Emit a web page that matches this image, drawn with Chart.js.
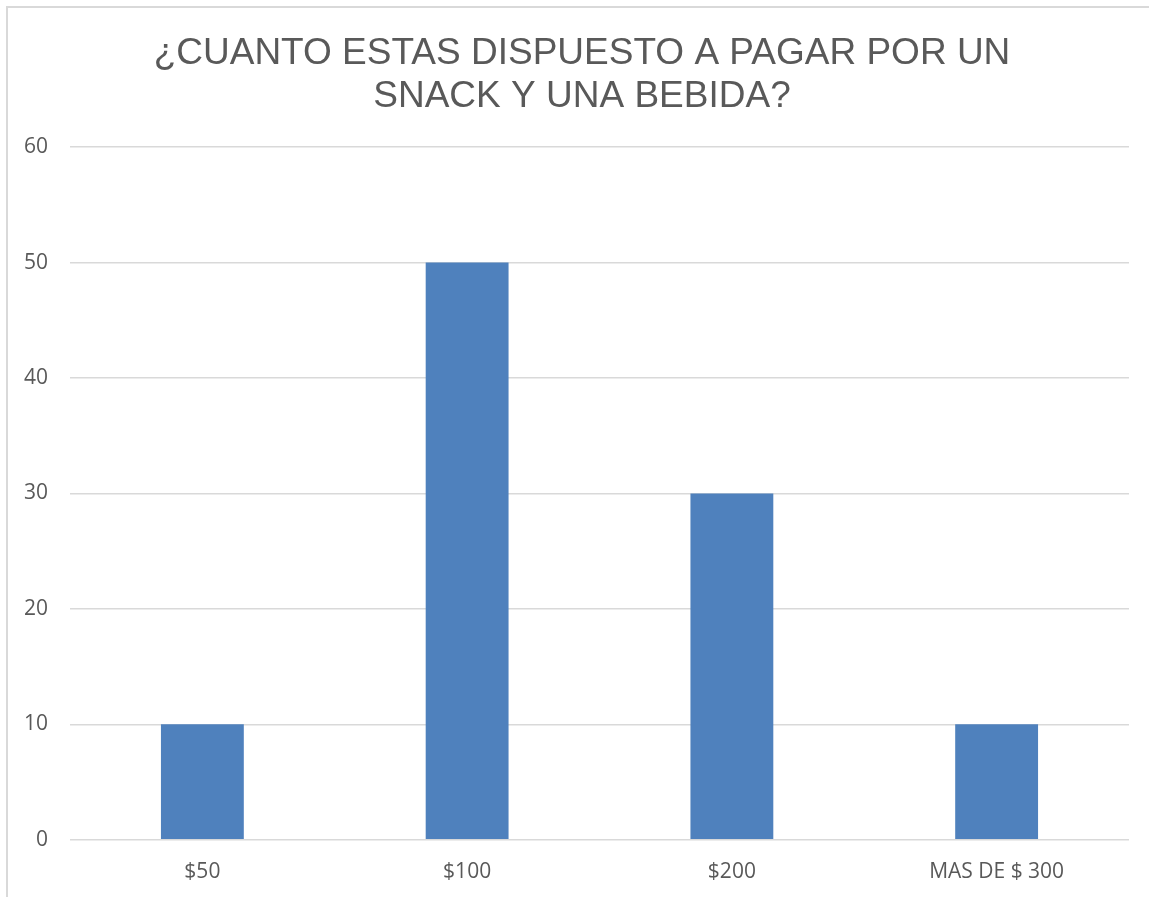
<!DOCTYPE html>
<html>
<head>
<meta charset="utf-8">
<script src="https://cdn.jsdelivr.net/npm/chart.js@4"></script>
<style>
  html, body { margin: 0; padding: 0; background: #fff; }
  #frame {
    position: absolute; left: 6px; top: 6px; width: 1200px; height: 950px;
    border-left: 2px solid #d9d9d9; border-top: 2px solid #d9d9d9;
  }
  #wrap { position: absolute; left: 0; top: 0; width: 1149px; height: 897px; }
</style>
</head>
<body>
<div id="frame"></div>
<div id="wrap"><canvas id="grafico"></canvas></div>
<script>
const categorias = ["$50", "$100", "$200", "MAS DE $ 300"];
const valores = [10, 50, 30, 10];
const titulo = ["¿CUANTO ESTAS DISPUESTO A PAGAR POR UN", "SNACK Y UNA BEBIDA?"];

const ctx = document.getElementById("grafico");

// the y labels sit a bit left of the padding box, so widen the axis box after layout
const ensancharEjeY = {
  id: "ensancharEjeY",
  afterLayout(chart) {
    chart.scales.y.left = 10;
  }
};

new Chart(ctx, {
  type: "bar",
  data: {
    labels: categorias,
    datasets: [{
      label: "Respuestas",
      data: valores,
      backgroundColor: "#4f81bd",
      categoryPercentage: 1,
      barPercentage: 0.313
    }]
  },
  options: {
    responsive: true,
    maintainAspectRatio: false,
    animation: false,
    layout: {
      padding: { left: 35, right: 20, top: 20, bottom: 0 }
    },
    plugins: {
      legend: { display: false },
      tooltip: { enabled: false },
      title: {
        display: true,
        text: titulo,
        color: "#595959",
        font: { family: "'Liberation Sans', Arial", size: 37, weight: "normal", lineHeight: 1.15 },
        padding: { top: 13, bottom: 29 }
      }
    },
    scales: {
      x: {
        grid: { display: false },
        border: { display: false },
        ticks: {
          color: "#595959",
          font: { family: "'Open Sans'", size: 21 },
          padding: 12
        }
      },
      y: {
        min: 0,
        max: 60,
        afterFit: (axis) => { axis.width = 35; },
        ticks: {
          stepSize: 10,
          color: "#595959",
          font: { family: "'Open Sans'", size: 21 },
          padding: 22
        },
        grid: { color: "#d9d9d9", lineWidth: 1.5, drawTicks: false },
        border: { display: false }
      }
    }
  },
  plugins: [ensancharEjeY]
});
</script>
</body>
</html>
